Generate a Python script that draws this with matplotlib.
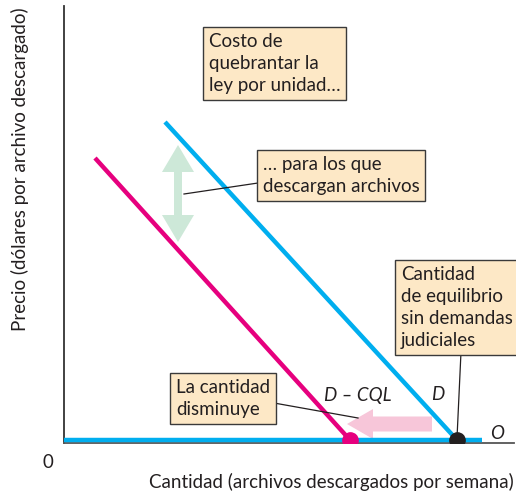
import matplotlib.pyplot as plt
from matplotlib.patches import FancyArrow

plt.rcParams['font.family'] = ['Lato', 'DejaVu Sans']

# demand curves and supply (quantity, price) in chart units
demand_q = [101, 393]
demand_p = [321, 3]
demand_cql_q = [31, 286]
demand_cql_p = [285, 3]
supply_q = [0, 418]
supply_p = [3, 3]
eq_q = 393
eq_cql_q = 286

blue = '#00aeef'
magenta = '#e6007e'
box_fc = '#fde8c6'
box_ec = '#3a3a3a'
text_c = '#231f20'

fig = plt.figure(figsize=(5.16, 4.98), dpi=100)
ax = fig.add_axes([64 / 516, 55 / 498, 450 / 516, 437 / 498])
ax.set_xlim(0, 450)
ax.set_ylim(0, 437)

for s in ['top', 'right']:
    ax.spines[s].set_visible(False)
ax.spines['left'].set_color('#333333')
ax.spines['bottom'].set_color('#555555')
ax.spines['left'].set_linewidth(1.3)
ax.spines['bottom'].set_linewidth(1.3)
ax.set_xticks([])
ax.set_yticks([])

# arrows
ax.add_patch(FancyArrow(114, 250, 0, 48, width=8, head_width=32, head_length=27,
                        length_includes_head=True, color='#cde8d8', lw=0))
ax.add_patch(FancyArrow(114, 250, 0, -49, width=8, head_width=32, head_length=27,
                        length_includes_head=True, color='#cde8d8', lw=0))
ax.add_patch(FancyArrow(368, 19, -85, 0, width=15, head_width=30, head_length=26,
                        length_includes_head=True, color='#f7c6d9', lw=0))

# curves
ax.plot(supply_q, supply_p, color=blue, lw=3.2, solid_capstyle='butt', zorder=3)
ax.plot(demand_q, demand_p, color=blue, lw=3.2, solid_capstyle='butt', zorder=3)
ax.plot(demand_cql_q, demand_cql_p, color=magenta, lw=3.2, solid_capstyle='butt', zorder=3)
ax.plot([eq_q], [3], 'o', color='#231f20', ms=11, zorder=5)
ax.plot([eq_cql_q], [3], 'o', color=magenta, ms=11, zorder=5)

# leader lines
ax.plot([194, 120], [260, 249], color=text_c, lw=0.9, zorder=4)
ax.plot([397, 393], [91, 5], color=text_c, lw=0.9, zorder=4)
ax.plot([210, 294], [40, 25], color=text_c, lw=0.9, zorder=4)

bbox = dict(boxstyle='square,pad=0.3', fc=box_fc, ec=box_ec, lw=1.0)
fs = 13.5
ls = 1.36
ax.text(145, 410, 'Costo de\nquebrantar la\nley por unidad…', fontsize=fs, color=text_c,
        va='top', ha='left', bbox=bbox, linespacing=ls, zorder=6)
ax.text(199, 287, '… para los que\ndescargan archivos', fontsize=fs, color=text_c,
        va='top', ha='left', bbox=bbox, linespacing=ls, zorder=6)
ax.text(337, 177, 'Cantidad\nde equilibrio\nsin demandas\njudiciales', fontsize=fs, color=text_c,
        va='top', ha='left', bbox=bbox, linespacing=ls, zorder=6)
ax.text(112, 64, 'La cantidad\ndisminuye', fontsize=fs, color=text_c,
        va='top', ha='left', bbox=bbox, linespacing=ls, zorder=6)

ax.text(294, 48, 'D – CQL', fontsize=13.5, style='italic', color=text_c, ha='center', va='center')
ax.text(374, 48, 'D', fontsize=13.5, style='italic', color=text_c, ha='center', va='center')
ax.text(433, 10, 'O', fontsize=13.5, style='italic', color=text_c, ha='center', va='center')
ax.text(-16, -19, '0', fontsize=13.5, color=text_c, ha='center', va='center')

ax.text(267, -39, 'Cantidad (archivos descargados por semana)', fontsize=fs, color=text_c,
        ha='center', va='center')
ax.text(-44, 274, 'Precio (dólares por archivo descargado)', fontsize=fs, color=text_c,
        ha='center', va='center', rotation=90)

fig.savefig('out.png', dpi=100)
